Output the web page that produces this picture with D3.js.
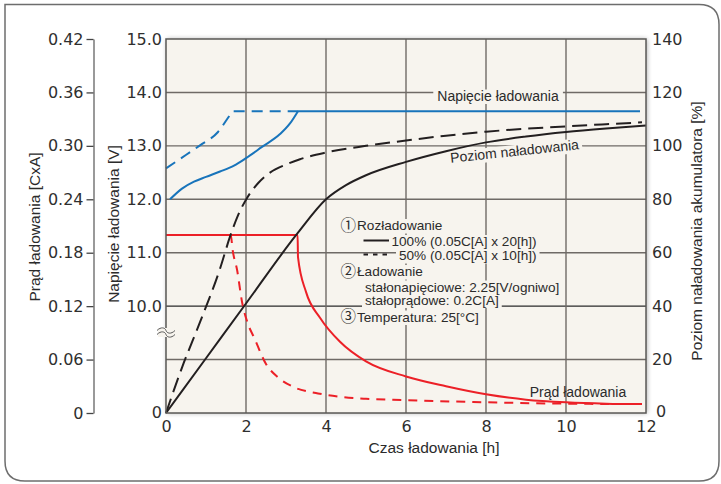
<!DOCTYPE html>
<html>
<head>
<meta charset="utf-8">
<script src="https://cdn.jsdelivr.net/npm/d3@7"></script>
<style>
  body { margin: 0; background: #fff; }
  svg { display: block; }
</style>
</head>
<body>
<div id="chart"></div>
<script>
// ---- data ----
const hourTicks = [0, 2, 4, 6, 8, 10, 12];
const currentTicks = [0, 0.06, 0.12, 0.18, 0.24, 0.30, 0.36, 0.42];
const voltTicks = [10, 11, 12, 13, 14, 15];
const pctTicks = [0, 20, 40, 60, 80, 100, 120, 140];

// charge voltage [V]
const voltFull = [[0.1, 12.0], [0.4, 12.2], [0.7, 12.33], [1.0, 12.42], [1.35, 12.52], [1.7, 12.63],
  [2.0, 12.77], [2.4, 12.98], [2.85, 13.22], [3.1, 13.42], [3.3, 13.65]];
const voltFullFlat = [[3.3, 13.65], [11.85, 13.65]];
const voltHalf = [[0, 12.58], [0.4, 12.78], [0.85, 13.01], [1.3, 13.26], [1.62, 13.6], [1.67, 13.65]];
const voltHalfFlat = [[1.67, 13.65], [3.3, 13.65]];

// state of charge [%]
const socFull = [[0, 0], [1, 20.5], [2, 41], [3.3, 67.5], [4, 80], [4.5, 85.3], [5, 89], [6, 94],
  [7, 98], [8, 101.3], [9, 103.5], [10, 105.2], [11, 106.5], [12, 107.6]];
const socHalf = [[0, 0], [0.4, 17], [0.85, 34], [1.35, 54], [1.6, 66], [1.8, 74], [2.03, 80.6],
  [2.3, 86], [2.6, 90], [3, 93], [3.35, 95], [4, 97.5], [5, 100], [6, 102], [7, 103.8],
  [8, 105.3], [9, 106.4], [10, 107.3], [11, 108.1], [11.9, 108.8]];

// charge current [CxA]
const curFull = [[0, 0.2], [3.29, 0.2], [3.3, 0.175], [3.5, 0.136], [3.85, 0.107], [4.35, 0.08],
  [5, 0.058], [6, 0.041], [7, 0.03], [8, 0.021], [9, 0.015], [10, 0.012], [11, 0.0105], [11.9, 0.01]];
const curHalf = [[0, 0.2], [1.62, 0.2], [1.66, 0.185], [1.78, 0.16], [1.9, 0.125], [2.05, 0.1],
  [2.2, 0.085], [2.5, 0.055], [2.8, 0.04], [3.2, 0.029], [3.8, 0.022], [4.4, 0.018], [5, 0.016],
  [6, 0.0145], [8, 0.012], [10, 0.0105], [11.9, 0.01]];

// legend lines: optional circled number + text
const legendLines = [
  { n: "\u2460", t: "Rozładowanie", x: 340.5, y: 230 },
  { t: "100% (0.05C[A] x 20[h])", x: 391.5, y: 246 },
  { t: "50% (0.05C[A] x 10[h])", x: 399, y: 260 },
  { n: "\u2461", t: "Ładowanie", x: 340.5, y: 276 },
  { t: "stałonapięciowe: 2.25[V/ogniwo]", x: 365, y: 291.5 },
  { t: "stałoprądowe: 0.2C[A]", x: 365, y: 304.5 },
  { n: "\u2462", t: "Temperatura: 25[°C]", x: 340.5, y: 321.5 }
];

// ---- layout ----
const W = 721, H = 484;
const plot = { left: 166, right: 646, top: 39, bottom: 413 };
const bg = "#f7f4ee";
const blue = "#1874bb", red = "#ec2027", black = "#231f20";
const numFont = "'DejaVu Sans', Verdana, sans-serif";
const txtFont = "'Liberation Sans', Arial, sans-serif";

const svg = d3.select("#chart").append("svg")
  .attr("width", W).attr("height", H);

// outer frame: square top-left, rounded elsewhere
const r = 20, fl = 5, ft = 4.5, fr = 719, fb = 481;
svg.append("path")
  .attr("d", `M${fl},${ft} H${fr - r} Q${fr},${ft} ${fr},${ft + r} V${fb - r} Q${fr},${fb} ${fr - r},${fb}` +
    ` H${fl + r} Q${fl},${fb} ${fl},${fb - r} Z`)
  .attr("fill", "#fff").attr("stroke", "#6d6d6d").attr("stroke-width", 1.5);

const x = d3.scaleLinear().domain([0, 12]).range([plot.left, plot.right]);
const yPct = d3.scaleLinear().domain([0, 140]).range([plot.bottom, plot.top]);
const yCur = d3.scaleLinear().domain([0, 0.42]).range([plot.bottom, plot.top]);
const yVolt = d3.scaleLinear().domain([10, 15]).range([yPct(40), yPct(140)]);

// shadow + plot background
const defs = svg.append("defs");
const f = defs.append("filter").attr("id", "sh").attr("x", "-5%").attr("y", "-5%").attr("width", "110%").attr("height", "110%");
f.append("feGaussianBlur").attr("in", "SourceAlpha").attr("stdDeviation", 2.5);
f.append("feOffset").attr("dx", 1).attr("dy", 0).attr("result", "b");
f.append("feComponentTransfer").append("feFuncA").attr("type", "linear").attr("slope", 0.35);
const fm = f.append("feMerge");
fm.append("feMergeNode");
fm.append("feMergeNode").attr("in", "SourceGraphic");

svg.append("rect")
  .attr("x", plot.left).attr("y", plot.top)
  .attr("width", plot.right - plot.left).attr("height", plot.bottom - plot.top)
  .attr("fill", bg).attr("filter", "url(#sh)");

// grid
const grid = svg.append("g").attr("stroke", "#6f6a66").attr("stroke-width", 1.4);
grid.selectAll(".gh").data(pctTicks.slice(1, -1)).enter().append("line")
  .attr("x1", plot.left).attr("x2", plot.right)
  .attr("y1", d => yPct(d)).attr("y2", d => yPct(d))
  .attr("stroke", d => d === 40 ? "#2a2a2a" : null)
  .attr("stroke-width", d => d === 40 ? 1.1 : null);
grid.selectAll(".gv").data(hourTicks.slice(1, -1)).enter().append("line")
  .attr("y1", plot.top).attr("y2", plot.bottom)
  .attr("x1", d => x(d)).attr("x2", d => x(d));

// text with a patch of background behind it, hiding the grid
function boxedText(bgG, g, px, py, opts) {
  const el = g.append("text").attr("x", px).attr("y", py)
    .attr("font-family", opts.font || txtFont).attr("font-size", opts.size || 14)
    .attr("fill", opts.fill || "#2b2b2b").attr("text-anchor", opts.anchor || "start");
  if (opts.num) {
    el.append("tspan").attr("font-family", "'Noto Sans CJK JP', 'DejaVu Sans'")
      .attr("font-size", 15.5).attr("dy", "0.5").text(opts.num);
    el.append("tspan").attr("dy", "-0.5").attr("dx", 1).text(opts.text);
  } else {
    el.text(opts.text);
  }
  if (opts.rotate) el.attr("transform", `rotate(${opts.rotate},${px},${py})`);
  const b = el.node().getBBox();
  const p = opts.pad || 2;
  bgG.append("rect")
    .attr("x", b.x - p).attr("y", py - 11).attr("width", b.width + 2 * p).attr("height", 14.5)
    .attr("fill", bg)
    .attr("transform", opts.rotate ? `rotate(${opts.rotate},${px},${py})` : null);
  return el;
}

// legend block
const legBg = svg.append("g"), leg = svg.append("g");
legendLines.forEach(l => boxedText(legBg, leg, l.x, l.y, { text: l.t, num: l.n, size: 13.6, pad: 3 }));
leg.append("line").attr("x1", 363.5).attr("x2", 389).attr("y1", 240.5).attr("y2", 240.5)
  .attr("stroke", black).attr("stroke-width", 2);
leg.append("line").attr("x1", 363.5).attr("x2", 389).attr("y1", 254.5).attr("y2", 254.5)
  .attr("stroke", black).attr("stroke-width", 2).attr("stroke-dasharray", "4.5,5");

// curve labels
const labBg = svg.append("g"), labs = svg.append("g");
boxedText(labBg, labs, 498, 100.5, { text: "Napięcie ładowania", size: 14, anchor: "middle", pad: 4 });
boxedText(labBg, labs, 515, 156, { text: "Poziom naładowania", size: 14, anchor: "middle", rotate: -6, pad: 3 });
labs.append("text").attr("x", 578).attr("y", 397).text("Prąd ładowania")
  .attr("font-family", txtFont).attr("font-size", 14).attr("fill", "#2b2b2b").attr("text-anchor", "middle");

// curves
const lineOf = (ys) => d3.line().x(d => x(d[0])).y(d => ys(d[1])).curve(d3.curveMonotoneX);
const curves = svg.append("g").attr("fill", "none").attr("stroke-width", 2).attr("stroke-linecap", "butt");
const series = [
  { d: curHalf, ys: yCur, c: red, dash: "9,7" },
  { d: curFull, ys: yCur, c: red },
  { d: socHalf, ys: yPct, c: black, dash: "15,7" },
  { d: socFull, ys: yPct, c: black },
  { d: voltHalf.concat(voltHalfFlat.slice(1)), ys: yVolt, c: blue, dash: "11,7" },
  { d: voltFull, ys: yVolt, c: blue },
  { d: voltFullFlat, ys: yVolt, c: blue }
];
series.forEach(s => {
  curves.append("path").datum(s.d)
    .attr("d", lineOf(s.ys))
    .attr("stroke", s.c)
    .attr("stroke-dasharray", s.dash || null);
});

// plot frame
svg.append("rect")
  .attr("x", plot.left).attr("y", plot.top)
  .attr("width", plot.right - plot.left).attr("height", plot.bottom - plot.top)
  .attr("fill", "none").attr("stroke", "#5a5856").attr("stroke-width", 1.5);

// axis break mark on the voltage axis
const brk = svg.append("g").attr("transform", `translate(${plot.left},333)`);
brk.append("rect").attr("x", -8).attr("y", -5).attr("width", 16).attr("height", 9).attr("fill", bg);
[-2.5, 1.5].forEach(dy => {
  brk.append("path")
    .attr("d", `M-9,${dy} C-5,${dy - 4} -1,${dy - 3} 0,${dy} S5,${dy + 4} 9,${dy}`)
    .attr("fill", "none").attr("stroke", "#555").attr("stroke-width", 1);
});

// left current axis
const axL = svg.append("g").attr("transform", "translate(93.5,0)")
  .call(d3.axisLeft(yCur).tickValues(currentTicks).tickSize(7).tickSizeOuter(0).tickPadding(3)
    .tickFormat(d => d === 0 ? "0" : d3.format(".2f")(d)));
axL.select(".domain").attr("stroke", "#777").attr("stroke-width", 1.5);
axL.selectAll(".tick line").attr("stroke", "#444").attr("stroke-width", 1.3);

// voltage axis labels (left of plot)
const axV = svg.append("g").attr("transform", `translate(${plot.left},0)`)
  .call(d3.axisLeft(yVolt).tickValues(voltTicks).tickSize(0).tickPadding(4).tickFormat(d3.format(".1f")));
axV.select(".domain").remove();
svg.append("text").attr("x", plot.left - 4).attr("y", plot.bottom).attr("dy", "0.32em")
  .attr("text-anchor", "end").text("0").attr("class", "vzero");

// right % axis
const axR = svg.append("g").attr("transform", `translate(${plot.right},0)`)
  .call(d3.axisRight(yPct).tickValues(pctTicks).tickSize(0).tickPadding(6));
axR.select(".domain").remove();
axR.selectAll(".tick").filter(d => d === 0).select("text").attr("x", 10).attr("dy", "0.2em");

// bottom hours axis
const axB = svg.append("g").attr("transform", `translate(0,${plot.bottom})`)
  .call(d3.axisBottom(x).tickValues(hourTicks).tickSize(0).tickPadding(8));
axB.select(".domain").remove();

svg.selectAll(".tick text, .vzero")
  .attr("font-family", numFont).attr("font-size", 16).attr("fill", "#2f2f2f");

// axis titles
const title = (t, tx, ty, rot) => svg.append("text")
  .attr("transform", `translate(${tx},${ty}) rotate(${rot})`)
  .attr("text-anchor", "middle").attr("font-family", txtFont).attr("font-size", 15.5)
  .attr("fill", "#2b2b2b").text(t);
title("Prąd ładowania [CxA]", 39.5, 227, -90);
title("Napięcie ładowania [V]", 119, 224, -90);
title("Poziom naładowania akumulatora [%]", 702, 231, -90);
title("Czas ładowania [h]", 434, 453, 0);
</script>
</body>
</html>
